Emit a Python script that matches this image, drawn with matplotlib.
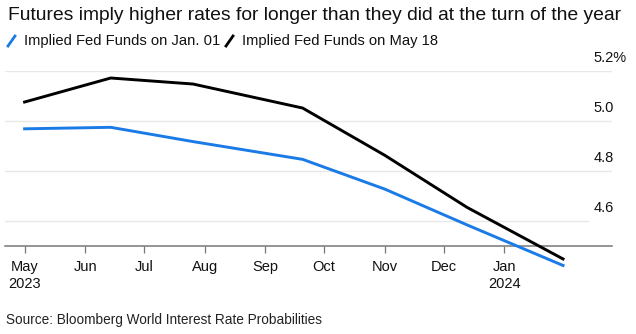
import matplotlib
matplotlib.use("Agg")
import matplotlib.pyplot as plt
import matplotlib.transforms as mtransforms
from matplotlib.lines import Line2D
import pandas as pd

plt.rcParams['font.family'] = ['Liberation Sans', 'DejaVu Sans']

# FOMC meeting dates and implied policy rates (%)
meeting_dates = ["2023-05-01", "2023-06-14", "2023-07-26", "2023-09-20",
                 "2023-11-01", "2023-12-13", "2024-01-31"]
implied_jan01 = [4.967, 4.973, 4.916, 4.845, 4.726, 4.583, 4.421]
implied_may18 = [5.074, 5.170, 5.146, 5.050, 4.861, 4.653, 4.447]

series_names = ["Implied Fed Funds on Jan. 01", "Implied Fed Funds on May 18"]
series_colors = ["#1b7be6", "#000000"]

month_ticks = ["2023-05-01", "2023-06-01", "2023-07-01", "2023-08-01", "2023-09-01",
               "2023-10-01", "2023-11-01", "2023-12-01", "2024-01-01"]
month_labels = ["May\n2023", "Jun", "Jul", "Aug", "Sep", "Oct", "Nov", "Dec", "Jan\n2024"]

y_ticks = [4.6, 4.8, 5.0, 5.2]
y_labels = ["4.6", "4.8", "5.0", "5.2%"]

title = "Futures imply higher rates for longer than they did at the turn of the year"
source = "Source: Bloomberg World Interest Rate Probabilities"

W, H = 636, 334
fig = plt.figure(figsize=(W / 100, H / 100), dpi=100)

left, right = 5 / W, 612 / W
bottom, top = 1 - 245.7 / H, 1 - 70.5 / H
ax = fig.add_axes([left, bottom, right - left, top - bottom])

x = pd.to_datetime(meeting_dates)
ax.set_xlim(pd.Timestamp("2023-04-21"), pd.Timestamp("2024-02-25"))
ax.set_ylim(4.5, 5.2)

for s in ["top", "right", "left"]:
    ax.spines[s].set_visible(False)
ax.spines["bottom"].set_color("#777777")
ax.spines["bottom"].set_linewidth(1.1)

# horizontal gridlines
for v in y_ticks:
    xmax = 0.96 if v == 4.6 else 1.0
    ax.axhline(v, xmin=0.0, xmax=xmax, color="#e8e8e8", lw=1.0, zorder=0)

ax.set_yticks([])
label_tf = mtransforms.offset_copy(ax.get_yaxis_transform(), fig=fig, x=0, y=13, units="dots")
for v, lab in zip(y_ticks, y_labels):
    ax.text(0.970, v, lab, transform=label_tf, ha="left", va="center",
            fontsize=10.5, color="#111111")

ax.set_xticks(pd.to_datetime(month_ticks))
ax.set_xticklabels(month_labels, fontsize=10.5, color="#111111", linespacing=1.35)
ax.tick_params(axis="x", length=5, width=0.9, color="#777777", pad=5)
for t in ax.get_xticklabels():
    t.set_verticalalignment("top")

ax.plot(x, implied_jan01, color=series_colors[0], lw=2.1, clip_on=False,
        solid_joinstyle="round", zorder=3)
ax.plot(x, implied_may18, color=series_colors[1], lw=2.1, clip_on=False,
        solid_joinstyle="round", zorder=4)

fig.text(8 / W, 1 - 15 / H, title, fontsize=13.85, ha="left", va="center", color="#111111")

# legend with slanted line markers
leg_y = 1 - 41 / H
items_x = [8, 226]
for px, name, col in zip(items_x, series_names, series_colors):
    fig.add_artist(Line2D([px / W, (px + 7) / W], [leg_y - 5 / H, leg_y + 5 / H],
                          color=col, lw=2.0, transform=fig.transFigure))
    fig.text((px + 16) / W, leg_y, name, fontsize=10.6, ha="left", va="center",
             color="#111111")

fig.text(6 / W, 1 - 320 / H, source, fontsize=9.8, ha="left", va="center", color="#222222")

fig.savefig("out.png", dpi=100)
